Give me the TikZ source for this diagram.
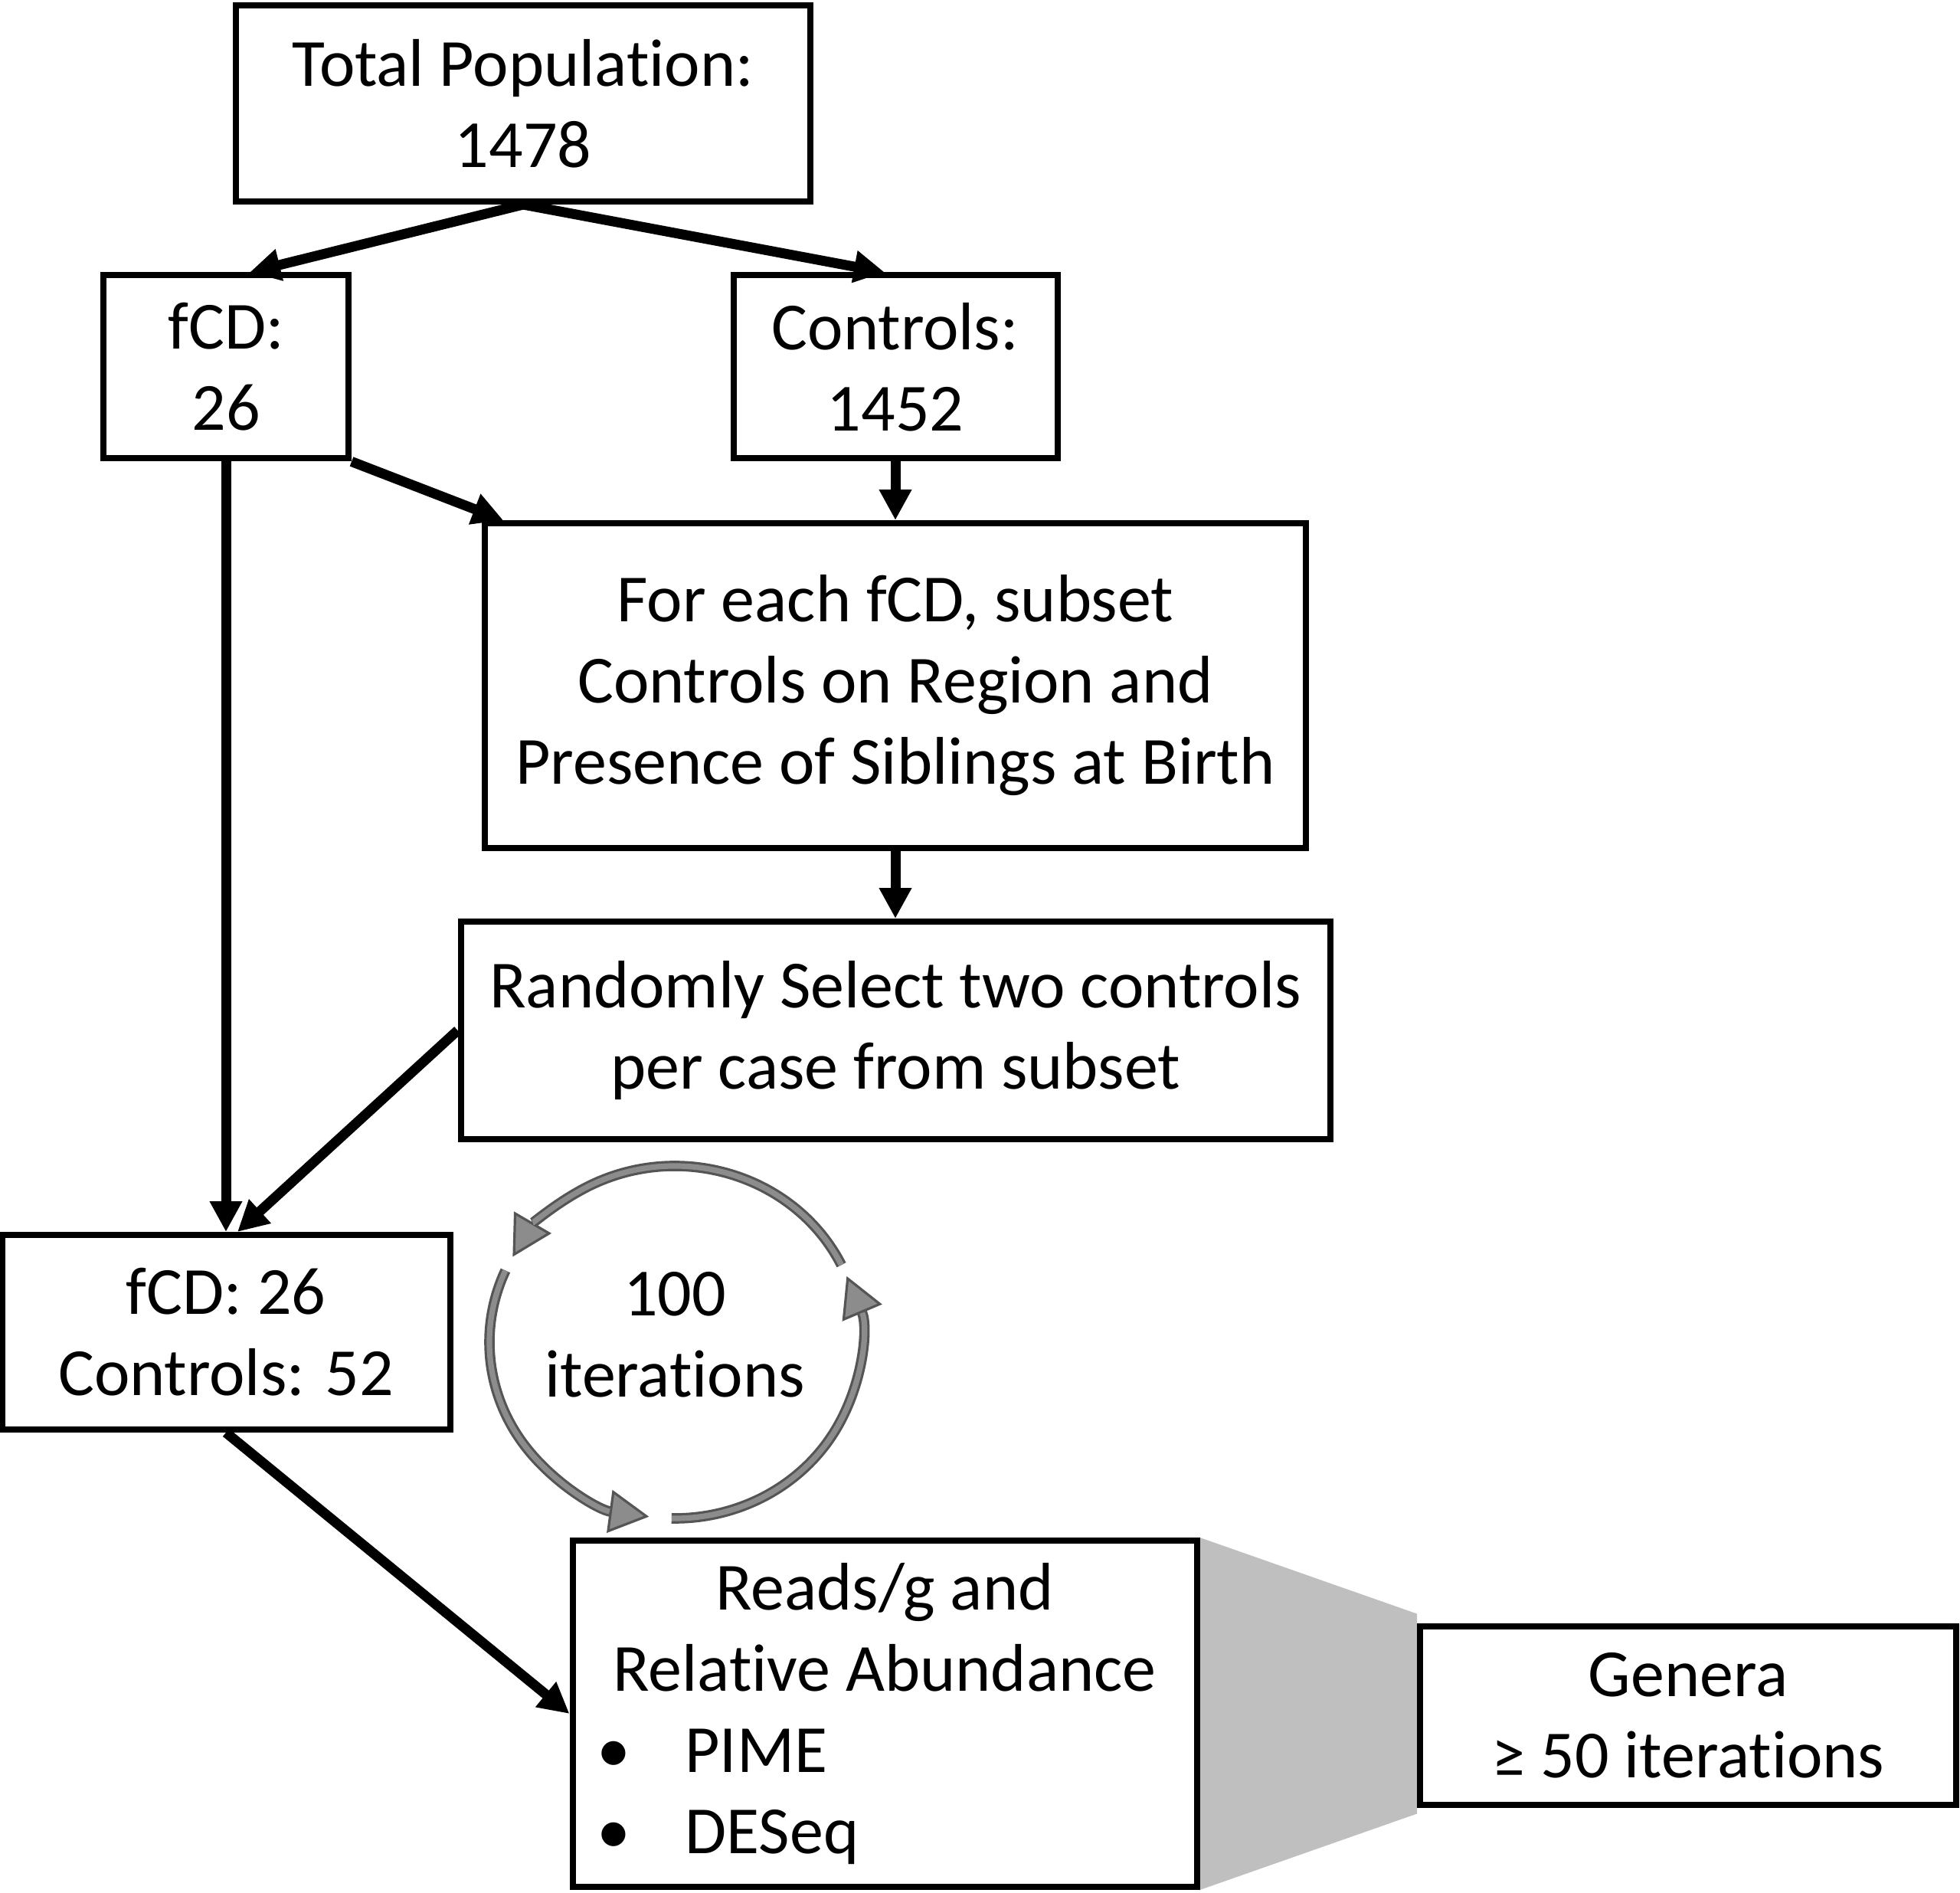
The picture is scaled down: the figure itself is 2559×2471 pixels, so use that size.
\documentclass[tikz,border=0pt]{standalone}
\usepackage{fontspec}
\setmainfont{Carlito}[Ligatures=NoCommon]
\usetikzlibrary{arrows.meta,calc,backgrounds}
\definecolor{trapgray}{HTML}{BFBFBF}
\definecolor{cycgray}{HTML}{8C8C8C}
\definecolor{cycedge}{HTML}{555555}
\begin{document}
\begin{tikzpicture}[x=0.25pt,y=-0.25pt,
  box/.style={draw=black, line width=2pt, inner sep=0pt, align=center,
    font=\fontsize{22pt}{26.5pt}\selectfont},
  flow/.style={line width=3.25pt, -{Triangle[length=10pt,width=10pt]}},
  cycout/.style={draw=cycedge, line width=3.4pt,
    -{Triangle[length=13pt,width=14pt,fill=cycgray,line width=0.8pt]}},
  cycin/.style={draw=cycgray, line width=1.8pt, shorten >=13pt}]
\useasboundingbox (0,0) rectangle (2559,2471);

\node[box, minimum width=187.5pt, minimum height=64pt] (tot) at (683,135) {Total Population:\\1478};
\node[box, minimum width=80pt, minimum height=59.75pt] (fcd) at (295,479) {fCD:\\26};
\node[box, minimum width=105.75pt, minimum height=59.75pt] (ctl) at (1169,479) {Controls:\\1452};
\node[box, minimum width=268pt, minimum height=106pt] (each) at (1169,895) {For each fCD, subset\\Controls on Region and\\Presence of Siblings at Birth};
\node[box, minimum width=283.75pt, minimum height=71pt] (rnd) at (1169,1345) {Randomly Select two controls\\per case from subset};
\node[box, minimum width=146.25pt, minimum height=63.5pt] (sel) at (295,1739) {fCD: 26\\Controls: 52};
\node[box, minimum width=203.75pt, minimum height=113pt] (reads) at (1155,2237) {Reads/g and\\Relative Abundance\\
  \makebox[203.75pt][l]{\hspace*{8pt}\makebox[28.75pt][l]{•}PIME}\\
  \makebox[203.75pt][l]{\hspace*{8pt}\makebox[28.75pt][l]{•}DESeq}};
\node[box, minimum width=175pt, minimum height=58.25pt] (gen) at (2204,2239) {Genera\\≥ 50 iterations};

\begin{scope}[on background layer]
  \fill[trapgray] (reads.north east) -- ($(gen.north west)+(0,-12)$) -- ($(gen.south west)+(0,8)$) -- (reads.south east) -- cycle;
\end{scope}

\draw[flow] (tot.south) -- ($(fcd.north)+(31,0)$);
\draw[flow] (tot.south) -- ($(ctl.north)+(-14,0)$);
\draw[flow] (fcd.south east) -- ($(each.north west)+(28,0)$);
\draw[flow] (ctl.south) -- (each.north);
\draw[flow] (each.south) -- (rnd.north);
\draw[flow] (fcd.south) -- (sel.north);
\draw[flow] (rnd.west) -- ($(sel.north)+(15,0)$);
\draw[flow] (sel.south) -- (reads.west);

\coordinate (cyc) at (881,1752);
\node[font=\fontsize{22pt}{26.5pt}\selectfont, align=center, inner sep=0pt] (iter) at (881,1742) {100\\iterations};
\begin{scope}[shift={(cyc)}, yscale=-1]
  \draw[cycout] (26:242 and 230) arc[start angle=26, end angle=151, x radius=242, y radius=230];
  \draw[cycin] (26:242 and 230) arc[start angle=26, end angle=151, x radius=242, y radius=230];
  \draw[cycout] (156:242 and 230) arc[start angle=156, end angle=262, x radius=242, y radius=230];
  \draw[cycin] (156:242 and 230) arc[start angle=156, end angle=262, x radius=242, y radius=230];
  \draw[cycout] (269:242 and 230) arc[start angle=269, end angle=382, x radius=242, y radius=230];
  \draw[cycin] (269:242 and 230) arc[start angle=269, end angle=382, x radius=242, y radius=230];
\end{scope}
\end{tikzpicture}
\end{document}
